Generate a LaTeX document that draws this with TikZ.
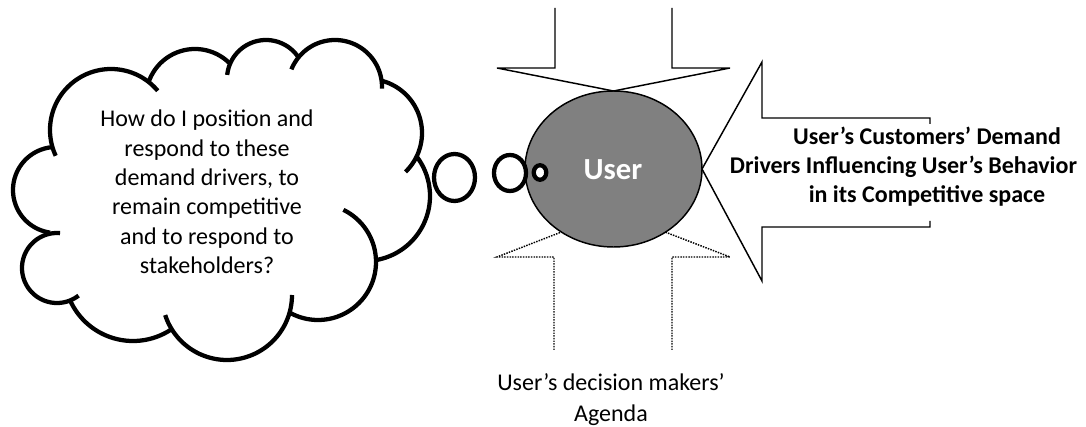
\documentclass[tikz,border=0pt]{standalone}
\usepackage{fontspec}
\setmainfont{Carlito}
\usetikzlibrary{shapes.geometric}
\definecolor{usergray}{RGB}{128,128,128}
% one lobe of the thought cloud: centre x, centre y, radius, start angle, end angle
\newcommand\cloudlobe[5]{%
  \draw[cloudline] plot[domain=#4:#5, samples=70, variable=\t]
    ({#1+#3*cos(\t)}, {#2+#3*sin(\t)});}
\begin{document}
\begin{tikzpicture}[x=0.75pt, y=-0.75pt,
  cloudline/.style={line width=3.2pt},
  blockline/.style={line width=1.1pt, line join=miter},
  dotline/.style={line width=1.1pt, dash pattern=on 1.1pt off 0.9pt},
  bubble/.style={ellipse, draw, fill=white, line width=3.2pt, inner sep=0pt, outer sep=0pt},
  bodytext/.style={font=\fontsize{18}{22}\selectfont, align=center, inner sep=0pt}
]
\useasboundingbox (0,0) rectangle (1086,427);
\fill[white] (0,0) rectangle (1086,427);

% thought cloud, lobes clockwise from the upper left
\cloudlobe{111}{130}{61}{155}{320}
\cloudlobe{195}{98}{49}{200}{316}
\cloudlobe{266}{79}{39}{186}{326}
\cloudlobe{335}{87}{47}{202}{362}
\cloudlobe{368}{133}{54}{284}{406}
\cloudlobe{365}{196}{65}{-38}{80}
\cloudlobe{318}{262}{58}{-64}{119.5}
\cloudlobe{227}{295}{65}{0}{162}
\cloudlobe{133}{272}{69}{56}{155}
\cloudlobe{57}{268}{35}{52}{275}
\cloudlobe{56}{190}{43}{98}{265}

\node[bodytext, anchor=north] (question) at (207,106.7)
  {\rule{0pt}{15pt}How do I position and\\ respond to these\\ demand drivers, to\\
   remain competitive\\ and to respond to\\ stakeholders?};

% agenda arrow from below (dotted), partly behind the user
\draw[dotline] (554,350) -- (554,257) -- (497,257) -- (613,212)
  -- (730,257) -- (672,257) -- (672,350);

% the user
\node[ellipse, draw, line width=1.1pt, fill=usergray, minimum width=132.75pt,
  minimum height=117pt, inner sep=0pt, outer sep=0pt] (user) at (613.5,169) {};
\node[font=\bfseries\fontsize{23}{27}\selectfont, text=white, anchor=base,
  inner sep=0pt] (username) at (613,180) {User};

% block arrow from above
\draw[blockline] (555,8) -- (555,68) -- (497,68) -- (user.north)
  -- (730,68) -- (672,68) -- (672,8);

% block arrow from the right
\draw[blockline] (930,124) -- (930,118) -- (762,118) -- (762,62) -- (user.east)
  -- (762,281) -- (762,227) -- (930,227) -- (930,221);

% thought bubbles
\node[bubble, minimum width=30.75pt, minimum height=35.25pt] (b1) at (454.5,177.5) {};
\node[bubble, minimum width=24pt, minimum height=27pt] (b2) at (510,173) {};
\node[bubble, minimum width=9.4pt, minimum height=10.9pt] (b3) at (540,172.5) {};

% the middle line runs a little to the left of the others
\node[bodytext, font=\bfseries\fontsize{18}{22}\selectfont, anchor=north] (drivers) at (927,124)
  {\rule{0pt}{15pt}User’s Customers’ Demand\\
   \makebox[0pt]{\hspace*{-35.25pt}Drivers Influencing User’s Behavior}\\
   in its Competitive space};

\node[bodytext, font=\fontsize{18}{23.8}\selectfont, anchor=north] (agenda) at (611,370)
  {\rule{0pt}{15pt}User’s decision makers’\\ Agenda};
\end{tikzpicture}
\end{document}
